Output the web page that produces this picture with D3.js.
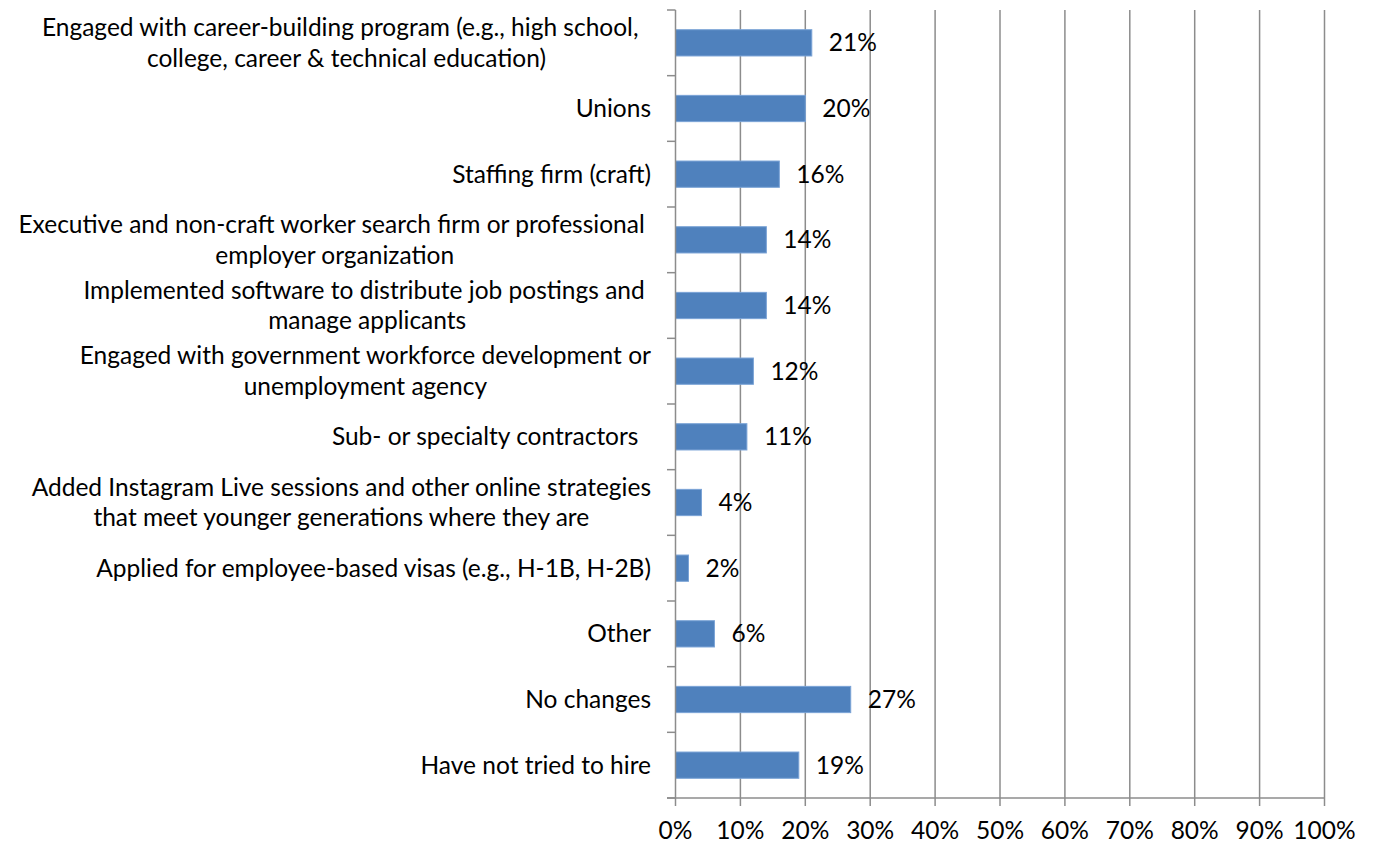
<!DOCTYPE html>
<html>
<head>
<meta charset="utf-8">
<script src="https://cdn.jsdelivr.net/npm/d3@7"></script>
<style>
  html, body { margin: 0; padding: 0; background: #fff; }
  svg text { font-family: Lato, "Open Sans", sans-serif; fill: #000; white-space: pre; }
</style>
</head>
<body>
<svg id="chart" width="1374" height="843"></svg>
<script>
// Category labels (each entry is the list of wrapped lines)
const categories = [
  ["Engaged with career-building program (e.g., high school,  ", "college, career & technical education)"],
  ["Unions"],
  ["Staffing firm (craft)"],
  ["Executive and non-craft worker search firm or professional ", "employer organization"],
  ["Implemented software to distribute job postings and ", "manage applicants"],
  ["Engaged with government workforce development or", "unemployment agency"],
  ["Sub- or specialty contractors  "],
  ["Added Instagram Live sessions and other online strategies", "that meet younger generations where they are"],
  ["Applied for employee-based visas (e.g., H-1B, H-2B)"],
  ["Other"],
  ["No changes"],
  ["Have not tried to hire"]
];
// Share of respondents, percent
const values = [21, 20, 16, 14, 14, 12, 11, 4, 2, 6, 27, 19];
const xTicks = [0, 10, 20, 30, 40, 50, 60, 70, 80, 90, 100];

const svg = d3.select("#chart");
const plotLeft = 675.5, plotRight = 1324.5, plotTop = 10, plotBottom = 798;
const fontSize = 24.5;
const baselineShift = 8.5; // alphabetic baseline below a row's centre

const x = d3.scaleLinear().domain([0, 100]).range([plotLeft, plotRight]);
const y = d3.scaleBand().domain(d3.range(categories.length)).range([plotTop, plotBottom]).paddingInner(0.6).paddingOuter(0.3);
const step = y.step();
const bandTop = i => plotTop + i * step;

// vertical gridlines
svg.append("g").selectAll("line").data(xTicks.slice(1)).join("line")
  .attr("x1", d => x(d)).attr("x2", d => x(d))
  .attr("y1", plotTop).attr("y2", plotBottom)
  .attr("stroke", "#8c8c8c").attr("stroke-width", 1.5);

// bars
svg.append("g").selectAll("rect").data(values).join("rect")
  .attr("x", x(0))
  .attr("y", (d, i) => y(i))
  .attr("width", d => x(d) - x(0))
  .attr("height", y.bandwidth())
  .attr("fill", "#4f81bd")
  .attr("stroke", "#7aa3d6").attr("stroke-width", 1);

// value labels
svg.append("g").selectAll("text").data(values).join("text")
  .attr("x", d => x(d) + 17)
  .attr("y", (d, i) => y(i) + y.bandwidth() / 2 + baselineShift)
  .attr("font-size", fontSize)
  .text(d => d + "%");

// category axis line and ticks
const axisColor = "#8c8c8c";
svg.append("line").attr("x1", plotLeft).attr("x2", plotLeft).attr("y1", plotTop).attr("y2", plotBottom)
  .attr("stroke", axisColor).attr("stroke-width", 1.5);
svg.append("g").selectAll("line").data(d3.range(categories.length + 1)).join("line")
  .attr("x1", plotLeft - 8.5).attr("x2", plotLeft)
  .attr("y1", d => bandTop(d)).attr("y2", d => bandTop(d))
  .attr("stroke", axisColor).attr("stroke-width", 1.5);

// value axis line and ticks
svg.append("line").attr("x1", plotLeft - 8.5).attr("x2", plotRight).attr("y1", plotBottom).attr("y2", plotBottom)
  .attr("stroke", axisColor).attr("stroke-width", 1.5);
svg.append("g").selectAll("line").data(xTicks).join("line")
  .attr("x1", d => x(d)).attr("x2", d => x(d))
  .attr("y1", plotBottom).attr("y2", plotBottom + 8)
  .attr("stroke", axisColor).attr("stroke-width", 1.5);
svg.append("g").selectAll("text").data(xTicks).join("text")
  .attr("x", d => x(d))
  .attr("y", 838.5)
  .attr("text-anchor", "middle")
  .attr("font-size", fontSize)
  .text(d => d + "%");

// category labels: wrapped lines centred on each other, block right-aligned
const labelRight = 651, lineGap = 30.5;
const lg = svg.append("g");
categories.forEach((lines, i) => {
  const cy = bandTop(i) + step / 2;
  const g = lg.append("g");
  const texts = lines.map((t, k) => g.append("text")
    .attr("font-size", fontSize)
    .attr("y", cy + baselineShift + (k - (lines.length - 1) / 2) * lineGap)
    .text(t));
  const w = d3.max(texts, t => t.node().getComputedTextLength());
  const cx = labelRight - w / 2;
  texts.forEach(t => t.attr("x", cx).attr("text-anchor", "middle"));
});
</script>
</body>
</html>
